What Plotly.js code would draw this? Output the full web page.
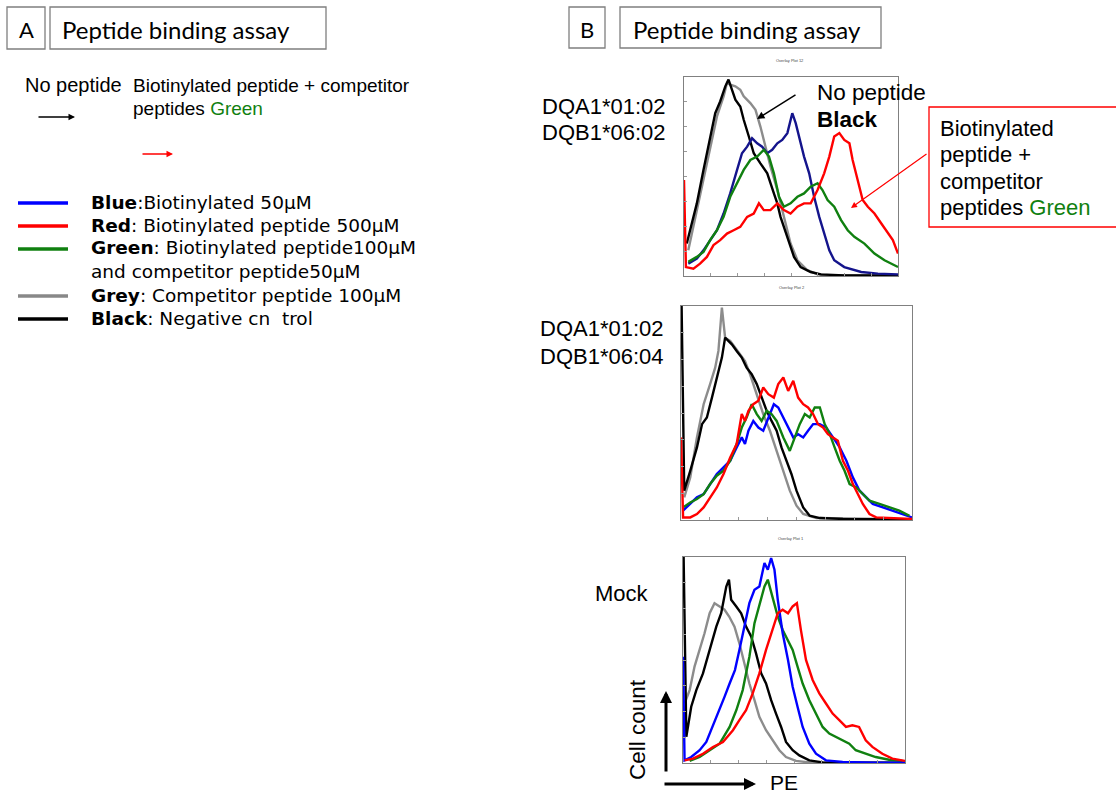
<!DOCTYPE html>
<html><head><meta charset="utf-8">
<script src="https://cdn.plot.ly/plotly-3.0.1.min.js"></script>
<style>html,body{margin:0;padding:0;background:#fff}#chart{width:1116px;height:793px}</style>
</head><body><div id="chart"></div>
<script>
// ---------- Panel 1: DQA1*01:02 / DQB1*06:02 (x: % of PE axis, y: % of max count) ----------
const p1BlackX=[1.3,2.8,6.0,9.1,12.2,14.6,16.9,19.3,20.8,22.4,24.0,26.3,27.9,30.3,32.6,35.7,38.9,42.0,43.6,45.1,48.3,51.4,54.5,59.2,64.0,74.9,100];
const p1BlackY=[16.3,23.0,36.5,53.3,68.4,81.8,87.7,95.3,98.7,93.6,88.6,85.2,78.5,70.1,61.7,56.6,51.6,41.5,36.5,29.7,19.7,9.6,4.5,2.0,0.8,0.3,0.3];
const p1GreyX=[2.0,6.0,9.1,12.2,15.4,18.5,20.1,21.6,24.0,26.3,27.9,31.0,33.4,35.7,38.1,40.4,43.6,46.7,49.8,53.0,57.7,62.4,67.1,100];
const p1GreyY=[12.9,33.1,49.9,65.0,80.2,90.3,97.0,96.1,95.3,93.6,90.3,86.9,83.5,75.1,65.0,55.0,43.2,29.7,16.3,7.9,2.9,0.8,0.3,0.3];
const p1BlueX=[2.0,6.0,9.1,12.2,15.4,18.5,21.6,24.8,27.1,29.5,31.8,34.2,36.5,38.9,41.2,43.6,45.9,48.3,50.6,52.2,53.8,56.1,58.5,60.8,63.2,65.5,67.9,70.2,74.9,82.8,90.6,100];
const p1BlueY=[6.2,8.7,12.9,18.0,23.0,31.4,41.5,53.3,61.7,65.0,69.2,66.7,65.0,61.7,63.4,66.7,68.4,71.8,81.8,76.8,70.1,60.0,51.6,39.8,29.7,21.3,12.9,7.9,4.5,2.0,1.2,0.8];
const p1GreenX=[2.0,6.0,9.1,12.2,15.4,18.5,21.6,24.8,27.9,31.0,34.2,37.3,39.7,42.0,44.4,46.7,49.8,53.0,56.1,59.2,62.4,64.7,67.1,70.2,73.4,76.5,79.6,84.3,89.0,93.7,96.9,100];
const p1GreenY=[7.1,9.6,12.1,18.0,23.0,29.7,39.8,46.6,53.3,58.3,60.0,63.4,60.0,51.6,39.8,34.8,36.5,39.8,41.5,44.9,46.6,43.2,38.2,34.8,28.1,23.0,19.7,16.3,11.3,7.9,6.2,4.5];
const p1RedX=[0,0.9,4.4,7.5,10.7,13.8,16.9,20.1,23.2,26.3,29.5,32.6,35.0,37.3,40.4,43.6,46.7,49.8,53.0,56.1,59.2,62.4,65.5,67.9,70.2,72.6,74.9,77.3,78.8,81.2,83.5,85.9,89.0,92.2,95.3,97.6,100];
const p1RedY=[48.2,4.5,3.7,6.2,9.6,15.5,18.0,21.3,23.0,24.7,29.7,31.4,36.5,33.1,33.1,36.5,33.1,31.4,34.8,36.5,36.5,43.2,51.6,60.0,70.1,71.8,68.4,66.7,58.3,48.2,38.2,34.8,31.4,26.4,21.3,18.0,11.3];

// ---------- Panel 2: DQA1*01:02 / DQB1*06:04 ----------
const p2BlackX=[0,1.4,4.0,6.9,9.1,11.2,13.4,15.5,17.7,19.1,20.5,22.0,24.1,26.3,28.4,30.6,32.8,34.9,37.1,39.2,41.4,43.5,45.7,47.8,50.0,52.9,55.7,60.1,70.1,100];
const p2BlackY=[120,13.7,23.0,33.9,44.8,47.9,57.2,66.6,75.9,85.2,83.7,82.1,79.0,75.9,71.2,68.1,63.5,57.2,51.0,46.3,41.7,33.9,27.7,21.5,13.7,5.9,2.0,0.9,0.5,0.3];
const p2GreyX=[1.4,4.0,6.9,9.8,12.6,14.8,16.2,17.7,19.1,21.3,23.4,25.6,27.7,29.9,32.8,35.6,38.5,41.4,44.3,47.1,50.0,52.9,58.6,100];
const p2GreyY=[10.6,19.9,38.6,54.1,63.5,71.2,79.0,99.2,85.2,83.7,80.6,77.4,74.3,68.1,58.8,49.5,41.7,32.3,23.0,13.7,6.7,2.8,0.9,0.3];
const p2BlueX=[0.9,4.0,6.9,9.8,12.6,15.5,18.4,21.3,24.1,26.3,27.7,29.2,31.3,33.5,35.6,37.8,40.2,42.1,44.3,46.4,48.6,50.7,52.9,55.0,57.2,60.1,62.9,65.8,68.7,71.6,74.4,77.3,80.2,83.0,87.4,91.7,96.0,100];
const p2BlueY=[4.4,7.5,10.6,12.1,16.8,21.5,24.6,27.7,33.9,38.6,35.5,41.7,46.3,43.2,41.7,47.9,54.1,52.6,47.9,43.2,38.6,40.1,38.6,41.7,44.8,44.8,43.2,38.6,33.9,27.7,19.9,13.7,10.6,7.5,5.9,4.4,2.8,1.2];
const p2GreenX=[0.9,4.0,6.9,9.8,12.6,15.5,18.4,21.3,24.1,26.3,28.4,30.6,32.8,34.9,37.1,39.2,41.4,44.3,47.1,49.3,51.4,53.6,55.7,57.9,60.1,62.2,64.4,66.5,68.7,70.8,73.0,75.9,78.7,81.6,85.9,90.2,94.5,98.9];
const p2GreenY=[5.9,8.2,9.8,12.1,16.8,20.7,23.0,27.7,35.5,43.2,47.9,54.1,49.5,46.3,51.0,49.5,46.3,38.6,32.3,38.6,44.8,49.5,47.9,52.6,52.6,44.8,40.1,33.9,27.7,23.0,16.8,15.2,12.1,9.0,7.5,5.9,4.4,2.0];
const p2RedX=[0,0.9,4.0,6.9,9.8,12.6,15.5,18.4,21.3,24.1,26.3,27.7,29.2,31.3,33.5,35.6,37.8,40.2,42.1,44.3,46.4,48.6,50.7,52.9,55.0,57.2,59.3,61.5,63.6,65.8,67.9,70.1,72.3,74.4,76.6,78.7,81.6,84.5,100];
const p2RedY=[38.6,1.2,1.2,2.8,5.9,10.6,15.2,21.5,29.2,35.5,49.5,46.3,51.0,54.1,55.7,61.9,58.8,57.2,63.5,66.6,60.3,65.0,57.2,54.1,52.6,49.5,44.8,43.2,40.1,38.6,37.0,27.7,23.0,16.8,12.1,7.5,2.8,1.2,0.5];

// ---------- Panel 3: Mock ----------
const p3BlackX=[0,1.5,3.7,6.0,9.0,12.0,15.0,17.2,19.5,20.7,21.7,24.0,26.2,28.4,30.7,32.9,35.2,37.4,39.7,41.9,44.2,46.4,49.4,52.4,56.9,62.9,71.9,100];
const p3BlackY=[120,12.7,27.3,35.4,43.5,54.9,66.2,72.7,85.7,89.0,79.2,76.0,72.7,66.2,61.4,53.2,43.5,38.6,30.5,24.0,17.5,10.2,6.2,3.7,1.3,0.3,0.2,0.2];
const p3GreyX=[0.7,3.0,5.2,7.5,9.7,12.0,14.2,16.5,18.7,20.8,23.2,25.4,27.7,29.9,32.2,34.4,37.4,40.4,43.4,46.4,50.9,56.9,100];
const p3GreyY=[28.9,35.4,46.8,54.9,63.0,72.7,77.6,76.0,74.4,71.1,66.2,58.1,48.4,38.6,30.5,22.4,15.9,11.0,6.2,2.9,1.0,0.3,0.2];
const p3BlueX=[0,0.7,3.7,7.5,10.5,12.7,15.7,18.7,21.0,23.4,25.4,27.7,29.9,32.2,34.4,36.7,38.2,39.7,41.2,42.7,44.9,47.3,49.4,51.6,53.9,56.9,59.9,64.4,71.9,86.8,100];
const p3BlueY=[51.6,1.3,2.9,6.2,10.2,15.9,24.0,32.1,38.6,45.1,54.9,66.2,77.6,84.1,85.7,97.1,93.8,99.5,93.8,79.2,63.0,50.0,37.0,27.3,17.5,9.4,4.5,1.3,0.5,0.2,0.2];
const p3GreenX=[3.0,7.5,12.0,16.5,21.0,24.0,26.9,29.9,32.2,34.4,36.7,38.2,40.4,42.7,44.9,47.3,49.4,51.6,53.9,56.9,59.9,62.9,65.9,68.9,71.9,74.9,77.8,82.3,86.8,92.8,98.8];
const p3GreenY=[1.0,2.9,6.2,9.4,17.5,25.6,35.4,51.6,67.9,76.0,85.7,89.0,80.8,71.1,64.6,59.7,54.9,46.8,38.6,30.5,24.0,17.5,14.3,12.7,11.0,9.4,6.2,4.5,2.9,1.6,1.0];
const p3RedX=[0.7,4.5,9.0,13.5,18.0,22.5,25.4,28.4,31.4,34.4,37.4,40.4,42.7,44.9,47.3,49.4,51.3,53.1,55.4,58.4,61.4,64.4,67.4,70.4,73.4,76.3,79.3,82.3,85.3,89.8,94.3,100];
const p3RedY=[1.3,2.1,4.5,7.8,10.2,15.9,20.8,25.6,33.8,43.5,54.9,64.6,72.7,74.4,72.7,76.0,77.6,64.6,50.0,40.3,33.8,28.9,24.0,20.8,17.5,18.3,17.5,11.0,7.8,4.5,2.1,1.0];

const tickVals=[0,12.5,25,37.5,50,62.5,75,87.5,100];
const panelLabels=[["DQA1*01:02","DQB1*06:02"],["DQA1*01:02","DQB1*06:04"],["Mock"]];
const overlayTitles=["Overlay Plot 12","Overlay Plot 2","Overlay Plot 1"];
const legendItems=[
  ["Blue",":Biotinylated 50μM"],
  ["Red",": Biotinylated peptide 500μM"],
  ["Green",": Biotinylated peptide100μM"],
  ["","and competitor peptide50μM"],
  ["Grey",": Competitor peptide 100μM"],
  ["Black",": Negative cn  trol"]
];
const legendColors=["#0000ff","#ff0000","#108010",null,"#888888","#000000"];

// ---------- helpers ----------
const W=1116,H=793;
const px=x=>x/W, py=y=>1-y/H;
const C={black:"#000000",grey:"#8c8c8c",navy:"#14148c",blue:"#0000ff",green:"#108010",red:"#ff0000"};

function tr(x,y,color,ax,w){return {x:x,y:y,type:"scatter",mode:"lines",line:{color:color,width:w||2.4},xaxis:"x"+ax,yaxis:"y"+ax,showlegend:false,hoverinfo:"skip"};}
const data=[
  tr(p1GreyX,p1GreyY,C.grey,""),tr(p1BlackX,p1BlackY,C.black,""),tr(p1BlueX,p1BlueY,C.navy,""),tr(p1GreenX,p1GreenY,C.green,""),tr(p1RedX,p1RedY,C.red,""),
  tr(p2GreyX,p2GreyY,C.grey,"2"),tr(p2BlackX,p2BlackY,C.black,"2"),tr(p2BlueX,p2BlueY,C.blue,"2"),tr(p2GreenX,p2GreenY,C.green,"2"),tr(p2RedX,p2RedY,C.red,"2"),
  tr(p3GreyX,p3GreyY,C.grey,"3"),tr(p3BlackX,p3BlackY,C.black,"3"),tr(p3GreenX,p3GreenY,C.green,"3"),tr(p3BlueX,p3BlueY,C.blue,"3"),tr(p3RedX,p3RedY,C.red,"3")
];

function axX(x0,x1,yname){return {domain:[px(x0),px(x1)],range:[0,100],anchor:yname,showgrid:false,zeroline:false,showline:true,mirror:true,linecolor:"#808080",linewidth:1,ticks:"inside",ticklen:3,tickcolor:"#999",tickvals:tickVals,showticklabels:false,fixedrange:true};}
function axY(y0,y1,xname){return {domain:[py(y1),py(y0)],range:[0,100],anchor:xname,showgrid:false,zeroline:false,showline:true,mirror:true,linecolor:"#808080",linewidth:1,ticks:"inside",ticklen:3,tickcolor:"#999",tickvals:tickVals,showticklabels:false,fixedrange:true};}

const ann=[];
function txt(t,x,y,size,fam,color,extra){ann.push(Object.assign({text:t,x:px(x),y:py(y),xref:"paper",yref:"paper",xanchor:"left",yanchor:"middle",showarrow:false,borderpad:0,borderwidth:0,font:{size:size,family:fam,color:color||"#000"}},extra||{}));}
function arrow(hx,hy,tx,ty,color,w,size){ann.push({text:"",x:px(hx),y:py(hy),xref:"paper",yref:"paper",ax:tx-hx,ay:ty-hy,showarrow:true,arrowhead:2,arrowsize:size||1,arrowwidth:w,arrowcolor:color});}

const ARIAL="Liberation Sans, Arial, sans-serif";
const CAL="Lato, Open Sans, sans-serif";
const VERD="DejaVu Sans, Verdana, sans-serif";

// headers
txt("A",26,29,22,CAL,"#000",{xanchor:"center"});
txt("Peptide binding assay",62,30,24,CAL);
txt("B",587,29,22,CAL,"#000",{xanchor:"center"});
txt("Peptide binding assay",633,30,24,CAL);

// panel A annotations
txt("No peptide",25,85,20,ARIAL);
txt("Biotinylated peptide + competitor",133,86,19,ARIAL);
txt("peptides <span style='color:#108010'>Green</span>",133,108,19,ARIAL);
arrow(75,117,37,117,"#000",1.3,1);
arrow(173,154,141,154,"#ff0000",1.3,1);

const legY=[202,225,248,271,295,318];
legendItems.forEach((it,i)=>{
  const t=it[0]?"<b>"+it[0]+"</b>"+it[1]:it[1];
  txt(t,91,legY[i],18.5,VERD);
});

// panel B annotations
txt(panelLabels[0][0],542,106,22,ARIAL);
txt(panelLabels[0][1],542,132,22,ARIAL);
txt(panelLabels[1][0],540,329,22,ARIAL);
txt(panelLabels[1][1],540,356,22,ARIAL);
txt(panelLabels[2][0],595,593,22,ARIAL);
txt("No peptide",817,93,22.5,ARIAL);
txt("<b>Black</b>",817,119,22.5,ARIAL);
arrow(757,119,797,94,"#000",1.5,1);
txt("Biotinylated",940,128,22,ARIAL);
txt("peptide +",940,154,22,ARIAL);
txt("competitor",940,181,22,ARIAL);
txt("peptides <span style='color:#108010'>Green</span>",940,207,22,ARIAL);
arrow(851,208,928,153,"#ff0000",1.2,1);
txt(overlayTitles[0],790,61,4,ARIAL,"#444",{xanchor:"center"});
txt(overlayTitles[1],792,287,4,ARIAL,"#444",{xanchor:"center"});
txt(overlayTitles[2],791,538,4,ARIAL,"#444",{xanchor:"center"});
txt("Cell count",637,730,22.5,ARIAL,"#000",{xanchor:"center",textangle:-90});
txt("PE",770,782,21,ARIAL);
arrow(666,691,666,773,"#000",3,0.8);
arrow(756,784,663,784,"#000",3,0.8);

const shapes=[
  {type:"rect",xref:"paper",yref:"paper",x0:px(7),x1:px(45),y0:py(49),y1:py(7),line:{color:"#7f7f7f",width:1.3}},
  {type:"rect",xref:"paper",yref:"paper",x0:px(50),x1:px(326),y0:py(49),y1:py(7),line:{color:"#7f7f7f",width:1.3}},
  {type:"rect",xref:"paper",yref:"paper",x0:px(569),x1:px(605),y0:py(48),y1:py(7),line:{color:"#7f7f7f",width:1.3}},
  {type:"rect",xref:"paper",yref:"paper",x0:px(620),x1:px(881),y0:py(48),y1:py(7),line:{color:"#7f7f7f",width:1.3}},
  {type:"rect",xref:"paper",yref:"paper",x0:px(929),x1:px(1125),y0:py(227),y1:py(107),line:{color:"#ff0000",width:1.3}}
];
legendColors.forEach((c,i)=>{ if(c) shapes.push({type:"line",xref:"paper",yref:"paper",x0:px(18),x1:px(68),y0:py(legY[i]+1),y1:py(legY[i]+1),line:{color:c,width:3.5}}); });

const layout={
  width:W,height:H,margin:{l:0,r:0,t:0,b:0},paper_bgcolor:"#fff",plot_bgcolor:"#fff",showlegend:false,
  xaxis:axX(684,898,"y"),yaxis:axY(77,276,"x"),
  xaxis2:axX(681,912,"y2"),yaxis2:axY(306,520,"x2"),
  xaxis3:axX(683,905,"y3"),yaxis3:axY(557,763,"x3"),
  annotations:ann,shapes:shapes
};
Plotly.newPlot("chart",data,layout,{staticPlot:true,displayModeBar:false});
</script></body></html>
